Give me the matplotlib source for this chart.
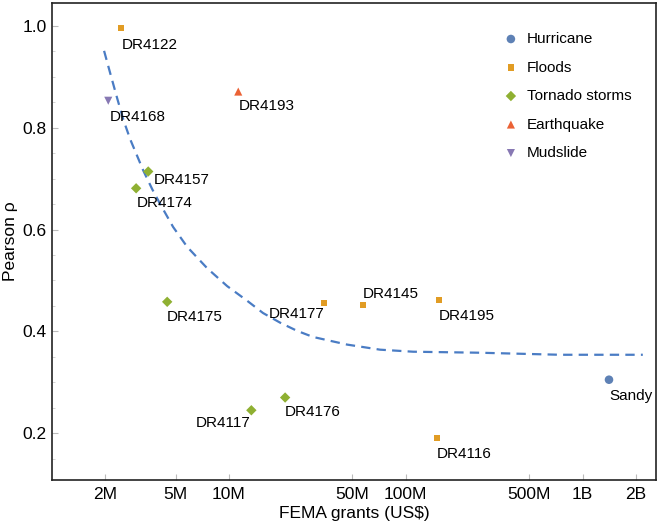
import matplotlib
matplotlib.use("Agg")
import matplotlib.pyplot as plt
from matplotlib.ticker import FixedLocator, NullFormatter

plt.rcParams['font.family'] = ['Liberation Sans', 'DejaVu Sans']

# ---- data ----
categories = ["Hurricane", "Floods", "Tornado storms", "Earthquake", "Mudslide"]

hurricane_names = ["Sandy"]
hurricane_grants = [1.41e9]
hurricane_rho = [0.305]

flood_names = ["DR4122", "DR4177", "DR4145", "DR4195", "DR4116"]
flood_grants = [2.46e6, 34.5e6, 57.4e6, 154e6, 150e6]
flood_rho = [0.996, 0.456, 0.452, 0.462, 0.190]

tornado_names = ["DR4157", "DR4174", "DR4175", "DR4117", "DR4176"]
tornado_grants = [3.50e6, 2.99e6, 4.48e6, 13.4e6, 20.8e6]
tornado_rho = [0.714, 0.681, 0.458, 0.245, 0.270]

quake_names = ["DR4193"]
quake_grants = [11.3e6]
quake_rho = [0.871]

mud_names = ["DR4168"]
mud_grants = [2.08e6]
mud_rho = [0.853]

fit_grants = [1.97e6, 2.13e6, 2.34e6, 2.53e6, 2.77e6, 3.28e6, 3.69e6, 4.09e6,
              4.84e6, 5.81e6, 7.54e6, 9.77e6, 12.7e6, 15.6e6, 19.5e6, 24.3e6,
              29.9e6, 46.6e6, 71.6e6, 110e6, 263e6, 745e6, 2.19e9]
fit_rho = [0.951, 0.908, 0.857, 0.816, 0.777, 0.716, 0.679, 0.650,
           0.605, 0.566, 0.524, 0.489, 0.460, 0.436, 0.417, 0.401,
           0.389, 0.374, 0.364, 0.360, 0.358, 0.354, 0.354]

xtick_values = [2e6, 5e6, 10e6, 50e6, 100e6, 500e6, 1e9, 2e9]
xtick_labels = ["2M", "5M", "10M", "50M", "100M", "500M", "1B", "2B"]
ytick_values = [0.2, 0.4, 0.6, 0.8, 1.0]
ytick_labels = ["0.2", "0.4", "0.6", "0.8", "1.0"]

# ---- label placement (pixel offsets, alignment) ----
label_offsets = {
    "Sandy": (0, -16, "left"),
    "DR4122": (1, -17, "left"),
    "DR4177": (1, -11, "right"),
    "DR4145": (0, 11, "left"),
    "DR4195": (0, -16, "left"),
    "DR4116": (0, -16, "left"),
    "DR4157": (6, -8, "left"),
    "DR4174": (1, -15, "left"),
    "DR4175": (0, -15, "left"),
    "DR4117": (-1, -13, "right"),
    "DR4176": (0, -14, "left"),
    "DR4193": (0, -14, "left"),
    "DR4168": (1, -16, "left"),
}

colors = ["#5E81B5", "#E19C24", "#8FB032", "#EB6235", "#8778B3"]
markers = ["o", "s", "D", "^", "v"]
msizes = [38, 20, 28, 34, 34]

fig = plt.figure(figsize=(6.6, 5.31), dpi=100)
ax = fig.add_axes([52/660, 51/531, (656-52)/660, (528-51)/531])

series = [
    (hurricane_names, hurricane_grants, hurricane_rho),
    (flood_names, flood_grants, flood_rho),
    (tornado_names, tornado_grants, tornado_rho),
    (quake_names, quake_grants, quake_rho),
    (mud_names, mud_grants, mud_rho),
]

ax.plot(fit_grants, fit_rho, linestyle=(0, (4.2, 2.8)), color="#4A7CC4",
        linewidth=1.6, zorder=1)

for (names, xs, ys), cat, c, m, s in zip(series, categories, colors, markers, msizes):
    ax.scatter(xs, ys, s=s, marker=m, color=c, edgecolors="none", label=cat, zorder=3)
    for n, x, y in zip(names, xs, ys):
        dx, dy, ha = label_offsets[n]
        ax.annotate(n, (x, y), xytext=(dx, dy), textcoords="offset pixels",
                    ha=ha, va="center", fontsize=11, color="black", zorder=4)

ax.set_xscale("log")
ax.set_xlim(1.0e6, 2.6e9)
ax.set_ylim(0.108, 1.045)

ax.xaxis.set_major_locator(FixedLocator(xtick_values))
ax.set_xticklabels(xtick_labels)
ax.xaxis.set_minor_locator(FixedLocator([]))
ax.xaxis.set_minor_formatter(NullFormatter())
ax.yaxis.set_major_locator(FixedLocator(ytick_values))
ax.set_yticklabels(ytick_labels)
ax.yaxis.set_minor_locator(FixedLocator([0.15, 0.25, 0.3, 0.35, 0.45, 0.5, 0.55,
                                         0.65, 0.7, 0.75, 0.85, 0.9, 0.95]))

ax.tick_params(axis="both", which="major", direction="in", length=4, width=0.8,
               color="#bbbbbb", labelsize=12.5)
ax.tick_params(axis="x", which="major", pad=5)
ax.tick_params(axis="y", which="major", pad=4)
ax.tick_params(axis="both", which="minor", direction="in", length=2, width=0.6,
               color="#cccccc")

for sp in ax.spines.values():
    sp.set_linewidth(1.2)
    sp.set_color("#222222")

ax.set_xlabel("FEMA grants (US$)", fontsize=12.5, labelpad=3)
ax.set_ylabel("Pearson ρ", fontsize=12.5)
ax.yaxis.set_label_coords(-0.056, 0.5)

leg = ax.legend(loc="upper left", bbox_to_anchor=(0.737, 0.952), frameon=False,
                fontsize=11, handletextpad=0.54, labelspacing=0.95,
                borderaxespad=0.0, handlelength=1.0)

fig.savefig("out.png", dpi=100)
